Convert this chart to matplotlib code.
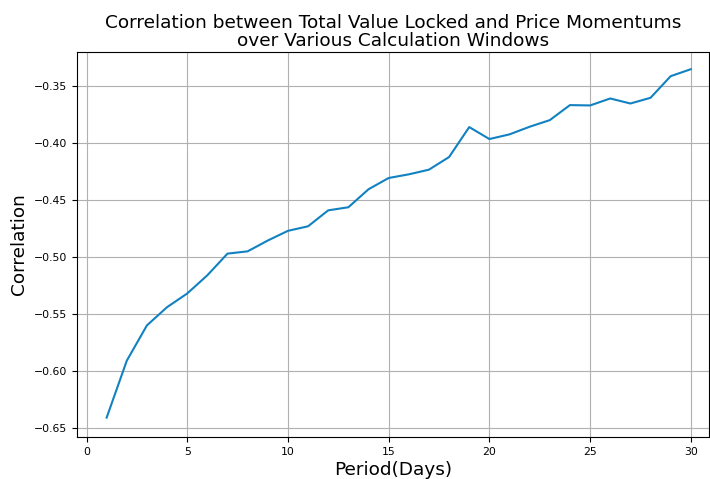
import matplotlib

matplotlib.use("Agg")

import matplotlib.pyplot as plt

# correlation for each calculation window (days)
periods = list(range(1, 31))
correlation = [
    -0.641, -0.591, -0.560, -0.544, -0.532, -0.516, -0.497, -0.495, -0.4855, -0.477,
    -0.473, -0.459, -0.4563, -0.4405, -0.4306, -0.4274, -0.4233, -0.4122, -0.3859, -0.3964,
    -0.3923, -0.3856, -0.3798, -0.3666, -0.3669, -0.3608, -0.3652, -0.3602, -0.3412, -0.3351,
]
x_ticks = [0, 5, 10, 15, 20, 25, 30]

fig = plt.figure(figsize=(7.1, 4.79), dpi=100)
ax = fig.add_axes([0.1085, 0.0877, 0.89, 0.8037])

ax.plot(periods, correlation, color="#1281c1", linewidth=1.5)
ax.set_xticks(x_ticks)
ax.set_xlim(-0.47, 30.9)
ax.set_ylim(-0.658, -0.32)
ax.grid(True, color="#b0b0b0", linewidth=0.8)
ax.tick_params(labelsize=7.8)

ax.set_title(
    "Correlation between Total Value Locked and Price Momentums\nover Various Calculation Windows",
    fontsize=13.3,
    linespacing=1.0,
    pad=4,
)
ax.set_xlabel("Period(Days)", fontsize=13.3, labelpad=3)
ax.set_ylabel("Correlation", fontsize=13.3)

fig.savefig("out.png", dpi=100)
